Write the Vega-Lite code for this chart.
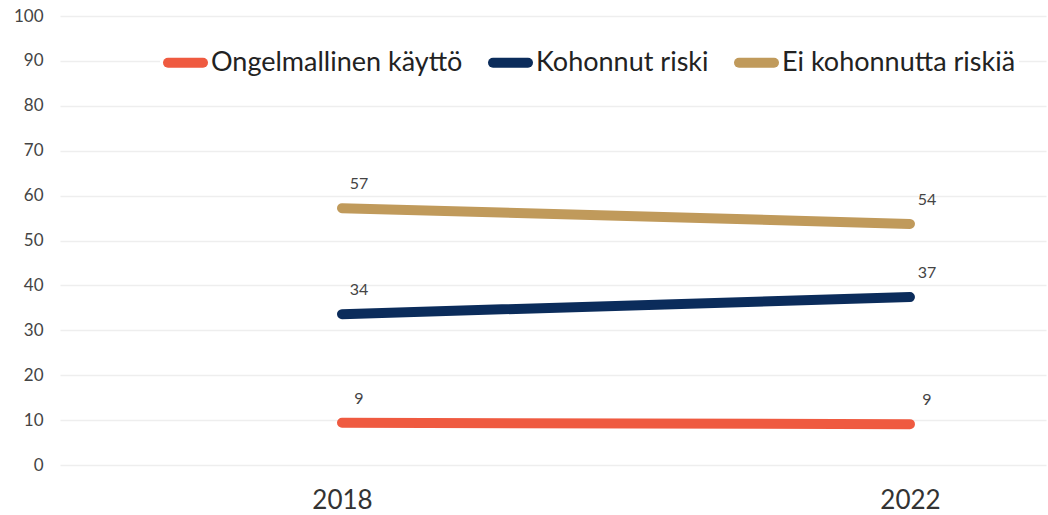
{
  "$schema": "https://vega.github.io/schema/vega-lite/v6.json",
  "width": 986,
  "height": 449,
  "autosize": {"type": "none"},
  "padding": {"left": 60, "top": 16, "right": 2, "bottom": 50},
  "background": "white",
  "config": {
    "font": "Lato",
    "view": {"stroke": null}
  },
  "data": {
    "values": [
      {"vuosi": 2018, "ryhma": "Ongelmallinen käyttö", "arvo": 9.4},
      {"vuosi": 2022, "ryhma": "Ongelmallinen käyttö", "arvo": 9.1},
      {"vuosi": 2018, "ryhma": "Kohonnut riski", "arvo": 33.6},
      {"vuosi": 2022, "ryhma": "Kohonnut riski", "arvo": 37.4},
      {"vuosi": 2018, "ryhma": "Ei kohonnutta riskiä", "arvo": 57.2},
      {"vuosi": 2022, "ryhma": "Ei kohonnutta riskiä", "arvo": 53.7}
    ]
  },
  "encoding": {
    "x": {
      "field": "vuosi",
      "type": "quantitative",
      "scale": {"domain": [2016.014, 2022.958], "nice": false, "zero": false},
      "axis": {
        "title": null,
        "values": [2018, 2022],
        "format": "d",
        "grid": false,
        "domain": false,
        "ticks": false,
        "labelFontSize": 26,
        "labelColor": "#333333",
        "labelPadding": 22,
        "labelFlush": false
      }
    },
    "y": {
      "field": "arvo",
      "type": "quantitative",
      "scale": {"domain": [0, 100], "nice": false},
      "axis": {
        "title": null,
        "values": [0, 10, 20, 30, 40, 50, 60, 70, 80, 90, 100],
        "domain": false,
        "ticks": false,
        "gridColor": "#eeeeee",
        "gridWidth": 1.5,
        "labelFontSize": 17,
        "labelColor": "#444444",
        "labelPadding": 17
      }
    }
  },
  "layer": [
    {
      "mark": {"type": "line", "strokeWidth": 10, "strokeCap": "round"},
      "encoding": {
        "color": {
          "field": "ryhma",
          "type": "nominal",
          "scale": {
            "domain": ["Ongelmallinen käyttö", "Kohonnut riski", "Ei kohonnutta riskiä"],
            "range": ["#EF5A40", "#0B2C5B", "#C09A5B"]
          },
          "legend": {
            "title": null,
            "orient": "none",
            "legendX": 100,
            "legendY": 21,
            "direction": "horizontal",
            "columns": 3,
            "symbolType": "stroke",
            "symbolSize": 1225,
            "symbolStrokeWidth": 10,
            "labelFontSize": 27,
            "labelLimit": 0,
            "labelColor": "#222222",
            "labelOffset": 3,
            "columnPadding": 10,
            "fillColor": "white",
            "padding": 3,
            "encode": {"symbols": {"update": {"strokeCap": {"value": "round"}}}}
          }
        }
      }
    },
    {
      "mark": {"type": "text", "dx": 17, "dy": -24, "fontSize": 16, "color": "#444444", "align": "center"},
      "encoding": {
        "text": {"field": "arvo", "type": "quantitative", "format": ".0f"},
        "detail": {"field": "ryhma"}
      }
    }
  ]
}
